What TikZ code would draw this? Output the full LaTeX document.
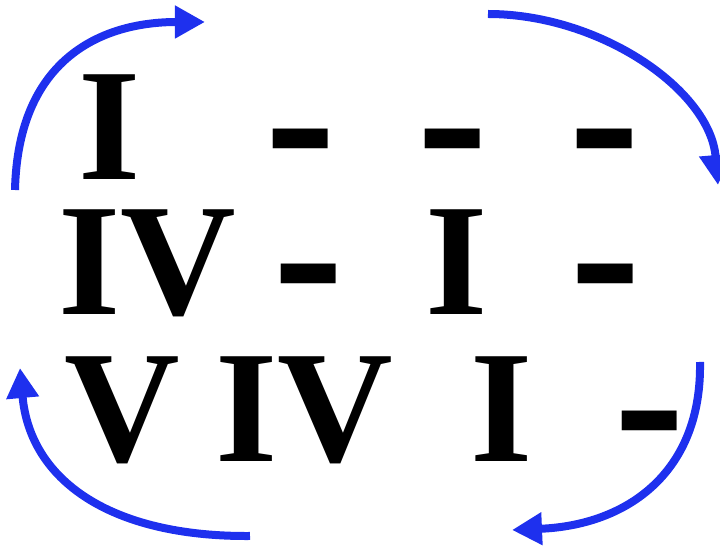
\documentclass[tikz,border=0pt]{standalone}
\usepackage{fontspec}
\usepackage{graphicx}
\setmainfont{Liberation Serif}
\usetikzlibrary{arrows.meta}
\definecolor{arrowblue}{RGB}{30,48,238}
\newcommand{\bardash}{\raisebox{-6.8pt}{\scalebox{1.32}[1.45]{-}}}

\begin{document}
\begin{tikzpicture}[
  x=0.5pt, y=-0.5pt,
  every node/.style={font=\bfseries\fontsize{80}{80}\selectfont, inner sep=0pt, anchor=base},
  bluearrow/.style={draw=arrowblue, line width=4pt, -{Triangle[length=15pt, width=15.5pt]}}
  ]
  \useasboundingbox (0,0) rectangle (720,550);

  % Define nodes
  % Top row
  \node (11) at (110,180) {I};
  \node (12) at (301,180) {\bardash};
  \node (13) at (453,180) {\bardash};
  \node (14) at (605,180) {\bardash};

  % Middle row
  \node (21) at (147.5,315) {IV};
  \node (22) at (308.5,315) {\bardash};
  \node (23) at (456.5,315) {I};
  \node (24) at (605.5,315) {\bardash};

  % Bottom row
  \node (31) at (122,462) {V};
  \node (32) at (304.5,462) {IV};
  \node (33) at (502,462) {I};
  \node (34) at (650,462) {\bardash};

  % Arrow ends
  \coordinate (a0) at (15,190);
  \coordinate (a1) at (205,22);
  \coordinate (b0) at (488,14);
  \coordinate (b1) at (718,185);
  \coordinate (c0) at (700,362);
  \coordinate (c1) at (512,530);
  \coordinate (d0) at (250,536);
  \coordinate (d1) at (20,368);

  % Clockwise arrows
  \draw[bluearrow] (a0) .. controls (18,60) and (100,22) .. (a1);
  \draw[bluearrow] (b0) .. controls (600,14) and (710,90) .. (b1);
  \draw[bluearrow] (c0) .. controls (702,470) and (630,525) .. (c1);
  \draw[bluearrow] (d0) .. controls (110,537) and (30,480) .. (d1);

\end{tikzpicture}
\end{document}
